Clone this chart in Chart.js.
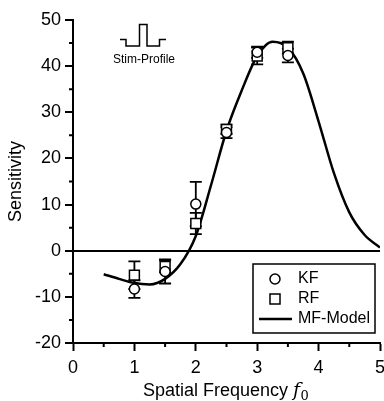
<!DOCTYPE html>
<html>
<head>
<meta charset="utf-8">
<script src="https://cdn.jsdelivr.net/npm/chart.js@4.4.1/dist/chart.umd.min.js"></script>
<style>
html, body { margin: 0; padding: 0; background: #fff; }
#caixa { width: 384px; height: 401px; }
</style>
</head>
<body>
<div id="caixa"><canvas id="grafico"></canvas></div>
<script>
// dados
var frequencias = [1, 1.5, 2, 2.5, 3, 3.5];
var kfValores = [-8.3, -4.5, 10.1, 25.6, 43.0, 42.3];
var kfErros = [1.9, 2.6, 4.8, 1.2, 1.2, 1.5];
var rfValores = [-5.3, -3.4, 5.9, 26.3, 42.2, 44.0];
var rfErros = [3.0, 1.3, 2.3, 1.0, 1.8, 1.3];

var modeloFreq = [0.5, 0.75, 1, 1.25, 1.5, 1.75, 2, 2.25, 2.5, 2.75, 3, 3.25, 3.5, 3.75, 4, 4.25, 4.5, 4.75, 5];
var modeloValores = [-5.1, -6.1, -7.0, -7.3, -6.1, -2.9, 3.2, 14.3, 26.0, 34.8, 42.2, 45.3, 44.0, 38.4, 28.0, 16.8, 8.3, 3.4, 0.7];

var ticksX = [0, 1, 2, 3, 4, 5];
var ticksY = [-20, -10, 0, 10, 20, 30, 40, 50];
var menoresX = [0.5, 1.5, 2.5, 3.5, 4.5];
var menoresY = [-15, -5, 5, 15, 25, 35, 45];

var fonte = "'Liberation Sans', Arial, sans-serif";

function pares(xs, ys) {
    var lista = [];
    for (var i = 0; i < xs.length; i++) {
        lista.push({ x: xs[i], y: ys[i] });
    }
    return lista;
}

// barras de erro, ticks menores, legenda e textos extras
var extras = {
    id: 'extras',
    beforeDatasetsDraw: function (chart) {
        var ctx = chart.ctx;
        var sx = chart.scales.x;
        var sy = chart.scales.y;
        ctx.save();
        ctx.strokeStyle = '#000';
        ctx.lineWidth = 1.8;
        var series = [[kfValores, kfErros], [rfValores, rfErros]];
        series.forEach(function (s) {
            for (var i = 0; i < frequencias.length; i++) {
                var px = sx.getPixelForValue(frequencias[i]);
                var topo = sy.getPixelForValue(s[0][i] + s[1][i]);
                var base = sy.getPixelForValue(s[0][i] - s[1][i]);
                ctx.beginPath();
                ctx.moveTo(px, topo); ctx.lineTo(px, base);
                ctx.moveTo(px - 6, topo); ctx.lineTo(px + 6, topo);
                ctx.moveTo(px - 6, base); ctx.lineTo(px + 6, base);
                ctx.stroke();
            }
        });
        ctx.restore();
    },
    afterDraw: function (chart) {
        var ctx = chart.ctx;
        var sx = chart.scales.x;
        var sy = chart.scales.y;
        var area = chart.chartArea;
        ctx.save();
        ctx.strokeStyle = '#000';
        ctx.fillStyle = '#000';
        ctx.lineWidth = 2;

        // ticks menores
        ctx.beginPath();
        menoresX.forEach(function (v) {
            var px = sx.getPixelForValue(v);
            ctx.moveTo(px, area.bottom); ctx.lineTo(px, area.bottom + 4);
        });
        menoresY.forEach(function (v) {
            var py = sy.getPixelForValue(v);
            ctx.moveTo(area.left, py); ctx.lineTo(area.left - 4, py);
        });
        ctx.stroke();

        // titulo do eixo y
        ctx.save();
        ctx.translate(21, (area.top + area.bottom) / 2);
        ctx.rotate(-Math.PI / 2);
        ctx.font = '18px ' + fonte;
        ctx.textAlign = 'center';
        ctx.textBaseline = 'alphabetic';
        ctx.fillText('Sensitivity', 0, 0);
        ctx.restore();

        // titulo do eixo x: "Spatial Frequency f0"
        var t1 = 'Spatial Frequency ';
        ctx.font = '18px ' + fonte;
        var w1 = ctx.measureText(t1).width;
        ctx.font = 'italic 19px "DejaVu Serif", serif';
        var w2 = ctx.measureText('f').width;
        var inicio = 143;
        ctx.textAlign = 'left';
        ctx.textBaseline = 'alphabetic';
        ctx.font = '18px ' + fonte;
        ctx.fillText(t1, inicio, 396);
        ctx.font = 'italic 19px "DejaVu Serif", serif';
        ctx.fillText('f', inicio + w1, 396);
        ctx.font = '13px "DejaVu Serif", serif';
        ctx.fillText('0', inicio + w1 + w2 + 0.5, 400);

        // icone Stim-Profile
        ctx.lineWidth = 1.5;
        ctx.beginPath();
        ctx.moveTo(120, 39.5);
        ctx.lineTo(126, 39.5);
        ctx.lineTo(126, 46);
        ctx.lineTo(139.5, 46);
        ctx.lineTo(139.5, 24.5);
        ctx.lineTo(147, 24.5);
        ctx.lineTo(147, 46);
        ctx.lineTo(159.5, 46);
        ctx.lineTo(159.5, 39.5);
        ctx.lineTo(166, 39.5);
        ctx.stroke();
        ctx.font = '12px ' + fonte;
        ctx.textAlign = 'center';
        ctx.textBaseline = 'middle';
        ctx.fillText('Stim-Profile', 144, 60);

        // legenda
        ctx.lineWidth = 1.5;
        ctx.strokeRect(253, 264, 122, 69);
        ctx.beginPath();
        ctx.arc(275, 279, 5, 0, Math.PI * 2);
        ctx.stroke();
        ctx.strokeRect(270, 294, 10, 10);
        ctx.lineWidth = 2.5;
        ctx.beginPath();
        ctx.moveTo(259, 319); ctx.lineTo(292, 319);
        ctx.stroke();
        ctx.font = '16px ' + fonte;
        ctx.textAlign = 'left';
        ctx.textBaseline = 'middle';
        ctx.fillText('KF', 298, 279);
        ctx.fillText('RF', 298, 299);
        ctx.fillText('MF-Model', 298, 319);
        ctx.restore();
    }
};

var dados = {
    datasets: [
        {
            type: 'scatter',
            label: 'KF',
            data: pares(frequencias, kfValores),
            pointStyle: 'circle',
            pointRadius: 5,
            pointBorderWidth: 1.5,
            pointBackgroundColor: '#fff',
            pointBorderColor: '#000',
            order: 1
        },
        {
            type: 'scatter',
            label: 'RF',
            data: pares(frequencias, rfValores),
            pointStyle: 'rect',
            pointRadius: 7,
            pointBorderWidth: 1.5,
            pointBackgroundColor: '#fff',
            pointBorderColor: '#000',
            order: 2
        },
        {
            type: 'line',
            label: 'MF-Model',
            data: pares(modeloFreq, modeloValores),
            borderColor: '#000',
            borderWidth: 2.5,
            pointRadius: 0,
            cubicInterpolationMode: 'monotone',
            fill: false,
            order: 3
        }
    ]
};

var config = {
    type: 'scatter',
    data: dados,
    plugins: [extras],
    options: {
        responsive: true,
        maintainAspectRatio: false,
        animation: false,
        events: [],
        layout: { padding: { top: 20, right: 4, left: 0, bottom: 0 }, autoPadding: false },
        plugins: {
            legend: { display: false },
            tooltip: { enabled: false }
        },
        scales: {
            x: {
                type: 'linear',
                min: 0,
                max: 5,
                afterBuildTicks: function (scale) {
                    scale.ticks = ticksX.map(function (v) { return { value: v }; });
                },
                afterFit: function (scale) {
                    scale.height = 58;
                    scale.paddingLeft = 0;
                    scale.paddingRight = 0;
                },
                ticks: {
                    color: '#000',
                    font: { family: fonte, size: 18 },
                    padding: 6,
                    maxRotation: 0
                },
                grid: {
                    drawOnChartArea: false,
                    tickLength: 8,
                    tickColor: '#000',
                    tickWidth: 2
                },
                border: { color: '#000', width: 2 }
            },
            y: {
                min: -20,
                max: 50,
                afterBuildTicks: function (scale) {
                    scale.ticks = ticksY.map(function (v) { return { value: v }; });
                },
                afterFit: function (scale) {
                    scale.width = 73;
                    scale.paddingTop = 0;
                    scale.paddingBottom = 0;
                },
                ticks: {
                    color: '#000',
                    font: { family: fonte, size: 18 },
                    padding: 4
                },
                grid: {
                    color: function (c) {
                        return c.tick && c.tick.value === 0 ? '#000' : 'rgba(0,0,0,0)';
                    },
                    lineWidth: 2,
                    tickLength: 8,
                    tickColor: '#000',
                    tickWidth: 2
                },
                border: { color: '#000', width: 2 }
            }
        }
    }
};

var grafico = new Chart(document.getElementById('grafico'), config);
</script>
</body>
</html>
